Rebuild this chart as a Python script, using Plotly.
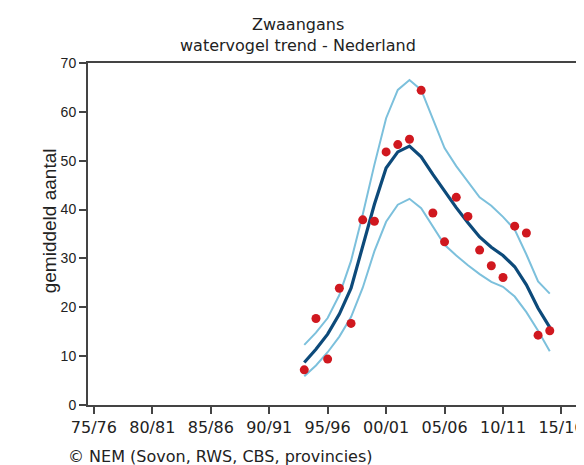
"""Zwaangans watervogel trend chart."""

import plotly.graph_objects as go

# seasons (start year) with counts
years = list(range(1993, 2015))
counts = [7.2, 17.7, 9.4, 23.9, 16.7, 37.9, 37.6, 51.8, 53.3, 54.4, 64.4,
          39.3, 33.4, 42.5, 38.6, 31.7, 28.5, 26.1, 36.6, 35.2, 14.3, 15.2]
trend = [8.7, 11.4, 14.5, 18.6, 23.9, 32.4, 41.1, 48.5, 51.8, 53.0, 50.8,
         47.2, 43.8, 40.4, 37.3, 34.4, 32.3, 30.6, 28.3, 24.6, 19.8, 15.9]
upper = [12.3, 14.8, 17.8, 22.5, 29.5, 39.0, 49.2, 58.7, 64.5, 66.5, 64.5,
         58.5, 52.6, 48.9, 45.7, 42.5, 40.8, 38.5, 35.9, 30.8, 25.3, 22.8]
lower = [5.9, 8.1, 10.8, 14.0, 18.0, 24.0, 31.5, 37.5, 41.0, 42.2, 40.3,
         36.5, 32.8, 30.6, 28.6, 26.8, 25.2, 24.2, 22.2, 19.0, 15.2, 11.0]

tick_years = [1975, 1980, 1985, 1990, 1995, 2000, 2005, 2010, 2015]
tick_labels = ["75/76", "80/81", "85/86", "90/91", "95/96", "00/01",
               "05/06", "10/11", "15/16"]

band_color = "#7cc0dc"
trend_color = "#0d4a7a"
dot_color = "#d0181f"
text_font = "DejaVu Sans"
text_color = "#222"

fig = go.Figure()

for band in (upper, lower):
    fig.add_trace(go.Scatter(x=years, y=band, mode="lines",
                             line={"color": band_color, "width": 2}))

fig.add_trace(go.Scatter(x=years, y=trend, mode="lines",
                         line={"color": trend_color, "width": 3.2}))

fig.add_trace(go.Scatter(x=years, y=counts, mode="markers",
                         marker={"color": dot_color, "size": 9}))

axis_style = dict(showline=True, linecolor="#444", linewidth=2, mirror=True,
                  ticks="outside", ticklen=7, tickcolor="#444", tickwidth=2,
                  showgrid=False, zeroline=False)

# plot area: x 80..576, y 55..397 (height 342)
fig.update_layout(
    width=584,
    height=465,
    margin={"l": 80, "r": 8, "t": 55, "b": 68},
    plot_bgcolor="white",
    paper_bgcolor="white",
    showlegend=False,
    xaxis=dict(range=[1974.5, 2016.5], tickvals=tick_years, ticktext=tick_labels,
               tickfont={"family": text_font, "size": 16, "color": text_color},
               **axis_style),
    yaxis=dict(range=[0, 70], dtick=10,
               tickfont={"family": "Liberation Sans", "size": 14, "color": text_color},
               **axis_style),
    annotations=[
        dict(text="Zwaangans", xref="paper", yref="paper", x=0.427, y=1.114,
             yanchor="middle", showarrow=False,
             font={"family": text_font, "size": 16, "color": text_color}),
        dict(text="watervogel trend - Nederland", xref="paper", yref="paper",
             x=0.427, y=1.05, yanchor="middle", showarrow=False,
             font={"family": text_font, "size": 16, "color": text_color}),
        dict(text="gemiddeld aantal", xref="paper", yref="paper", x=-0.105, y=0.54,
             textangle=-90, showarrow=False,
             font={"family": "Liberation Sans", "size": 19, "color": text_color}),
        dict(text="© NEM (Sovon, RWS, CBS, provincies)", xref="paper", yref="paper",
             x=-0.044, y=-0.152, xanchor="left", yanchor="middle", showarrow=False,
             font={"family": text_font, "size": 16, "color": text_color}),
    ],
)

fig.write_html("out.html")
